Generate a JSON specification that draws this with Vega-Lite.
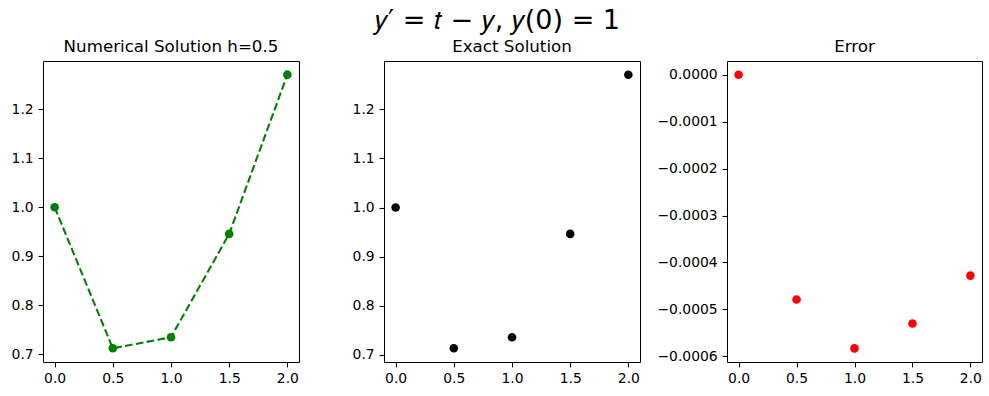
{
  "$schema": "https://vega.github.io/schema/vega-lite/v6.json",
  "padding": {"left": 0, "top": 6, "right": 0, "bottom": 0},
  "background": "white",
  "spacing": 15,
  "title": {
    "text": "𝑦′ = 𝑡 − 𝑦, 𝑦(0) = 1",
    "font": "DejaVu Sans",
    "fontSize": 27,
    "fontWeight": "normal",
    "color": "black",
    "anchor": "middle",
    "frame": "bounds",
    "dx": 6,
    "offset": 4
  },
  "config": {
    "view": {"stroke": "black", "strokeWidth": 1},
    "axis": {
      "labelFont": "DejaVu Sans",
      "labelFontSize": 13.9,
      "labelColor": "black",
      "tickColor": "black",
      "tickSize": 4.9,
      "tickWidth": 1.1,
      "labelPadding": 4.9,
      "grid": false,
      "domain": false,
      "title": null
    },
    "title": {
      "font": "DejaVu Sans",
      "fontSize": 16.7,
      "fontWeight": "normal",
      "color": "black",
      "anchor": "middle",
      "offset": 5
    }
  },
  "datasets": {
    "sol": [
      {"t": 0.0, "numerical": 1.0, "exact": 1.0, "error": 0.0},
      {"t": 0.5, "numerical": 0.71258, "exact": 0.71306, "error": -0.000479},
      {"t": 1.0, "numerical": 0.73518, "exact": 0.73576, "error": -0.000583},
      {"t": 1.5, "numerical": 0.94573, "exact": 0.94626, "error": -0.00053},
      {"t": 2.0, "numerical": 1.27024, "exact": 1.27067, "error": -0.000428}
    ]
  },
  "hconcat": [
    {
      "width": 256,
      "height": 301,
      "title": "Numerical Solution h=0.5",
      "data": {"name": "sol"},
      "encoding": {
        "x": {"field": "t", "type": "quantitative", "scale": {"domain": [-0.1, 2.1], "nice": false, "zero": false},
              "axis": {"values": [0, 0.5, 1, 1.5, 2], "format": ".1f"}},
        "y": {"field": "numerical", "type": "quantitative", "scale": {"domain": [0.6847, 1.2981], "nice": false, "zero": false},
              "axis": {"values": [0.7, 0.8, 0.9, 1.0, 1.1, 1.2], "format": ".1f", "minExtent": 42, "maxExtent": 42}}
      },
      "layer": [
        {"mark": {"type": "line", "color": "#008000", "strokeWidth": 2.08, "strokeDash": [7.7, 3.3]}},
        {"mark": {"type": "point", "filled": true, "shape": "circle", "size": 74, "color": "#008000", "opacity": 1}}
      ]
    },
    {
      "width": 256,
      "height": 301,
      "title": "Exact Solution",
      "data": {"name": "sol"},
      "mark": {"type": "point", "filled": true, "shape": "circle", "size": 74, "color": "black", "opacity": 1},
      "encoding": {
        "x": {"field": "t", "type": "quantitative", "scale": {"domain": [-0.1, 2.1], "nice": false, "zero": false},
              "axis": {"values": [0, 0.5, 1, 1.5, 2], "format": ".1f"}},
        "y": {"field": "exact", "type": "quantitative", "scale": {"domain": [0.68518, 1.29855], "nice": false, "zero": false},
              "axis": {"values": [0.7, 0.8, 0.9, 1.0, 1.1, 1.2], "format": ".1f", "minExtent": 68, "maxExtent": 68}}
      }
    },
    {
      "width": 255,
      "height": 301,
      "title": "Error",
      "data": {"name": "sol"},
      "mark": {"type": "point", "filled": true, "shape": "circle", "size": 74, "color": "#ff0000", "opacity": 1},
      "encoding": {
        "x": {"field": "t", "type": "quantitative", "scale": {"domain": [-0.1, 2.1], "nice": false, "zero": false},
              "axis": {"values": [0, 0.5, 1, 1.5, 2], "format": ".1f"}},
        "y": {"field": "error", "type": "quantitative", "scale": {"domain": [-0.000612, 0.0000292], "nice": false, "zero": false},
              "axis": {"values": [0, -0.0001, -0.0002, -0.0003, -0.0004, -0.0005, -0.0006], "format": ".4f", "minExtent": 68, "maxExtent": 68}}
      }
    }
  ]
}
